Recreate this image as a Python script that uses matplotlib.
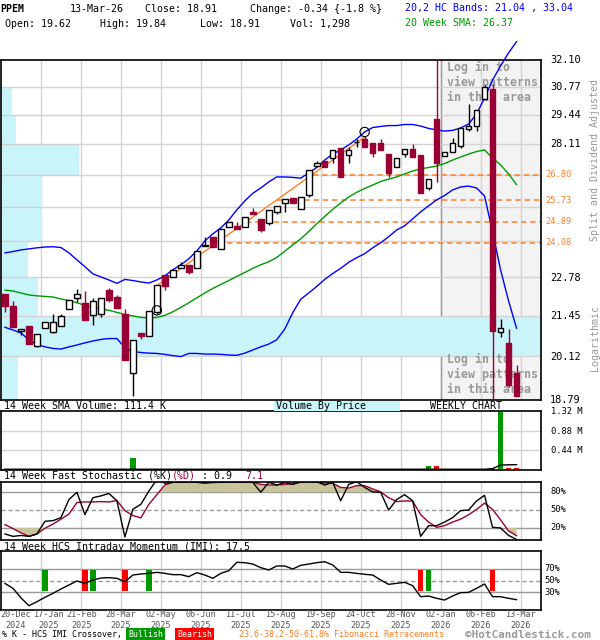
import numpy as np
import matplotlib.pyplot as plt
from matplotlib.patches import Rectangle
from matplotlib.ticker import NullLocator
from matplotlib.transforms import blended_transform_factory as blend

plt.rcParams['font.family'] = ['DejaVu Sans Mono']

# weekly candles, 20-Dec-2024 .. 13-Mar-2026
opens = [22.20, 21.80, 20.94, 21.12, 20.46, 21.04, 20.90, 21.11, 21.69, 22.06,
         21.90, 21.47, 21.51, 22.34, 22.10, 21.50, 19.60, 20.88, 20.77, 21.59,
         22.88, 22.82, 23.14, 23.25, 23.13, 23.95, 24.28, 23.83, 24.67, 24.72,
         24.69, 25.28, 24.99, 24.82, 25.26, 25.62, 25.82, 25.38, 25.95, 27.16,
         27.39, 27.49, 27.96, 27.64, 28.20, 28.34, 28.15, 28.15, 27.70, 27.13,
         27.67, 27.89, 27.64, 26.25, 29.25, 27.60, 27.79, 28.05, 28.79, 28.94,
         30.17, 30.66, 20.90, 20.55, 19.62]
highs = [22.20, 21.97, 21.00, 21.12, 20.85, 21.24, 21.53, 21.53, 22.00, 22.38,
         22.32, 22.08, 22.06, 22.41, 22.17, 21.68, 20.65, 20.88, 21.63, 22.53,
         22.88, 23.07, 23.37, 23.25, 23.76, 24.30, 24.28, 24.59, 24.86, 24.87,
         25.06, 25.43, 24.99, 25.35, 25.51, 25.78, 25.82, 25.88, 26.99, 27.38,
         27.39, 27.86, 27.96, 28.01, 28.33, 28.48, 28.15, 28.33, 27.70, 27.49,
         27.89, 28.11, 27.64, 26.60, 32.10, 27.79, 28.37, 28.86, 29.93, 29.67,
         30.86, 30.92, 21.35, 21.02, 19.84]
lows = [21.59, 21.09, 20.83, 20.53, 20.42, 21.04, 20.87, 21.11, 21.69, 21.94,
        21.30, 21.16, 21.40, 21.91, 21.73, 20.01, 18.92, 20.70, 20.77, 21.53,
        22.33, 22.82, 23.14, 22.92, 23.13, 23.95, 23.91, 23.83, 24.67, 24.59,
        24.69, 25.19, 24.49, 24.76, 25.18, 25.28, 25.62, 25.38, 25.88, 27.16,
        27.13, 27.28, 26.71, 27.31, 28.01, 28.01, 27.54, 27.86, 26.71, 27.13,
        27.56, 27.56, 26.02, 26.16, 26.50, 27.60, 27.79, 27.93, 28.70, 28.70,
        30.17, 18.79, 20.74, 19.19, 18.91]
closes = [21.80, 21.09, 21.00, 20.53, 20.85, 21.24, 21.24, 21.45, 22.00, 22.20,
          21.30, 21.97, 22.06, 21.98, 21.73, 20.01, 20.65, 20.77, 21.63, 22.53,
          22.50, 23.07, 23.24, 22.97, 23.76, 23.97, 23.91, 24.59, 24.86, 24.59,
          25.06, 25.19, 24.56, 25.35, 25.51, 25.78, 25.62, 25.88, 26.99, 27.31,
          27.13, 27.86, 26.71, 27.86, 28.20, 28.01, 27.74, 27.86, 26.88, 27.49,
          27.89, 27.56, 26.02, 26.60, 27.28, 27.79, 28.15, 28.86, 28.93, 29.67,
          30.74, 20.96, 21.04, 19.25, 18.91]

bb_upper = [23.69, 23.74, 23.80, 23.84, 23.88, 23.91, 23.92, 23.89, 23.69, 23.43,
            23.18, 22.92, 22.81, 22.70, 22.58, 22.72, 22.68, 22.63, 22.59, 22.70,
            22.85, 23.07, 23.25, 23.47, 23.76, 24.14, 24.41, 24.64, 24.95, 25.35,
            25.71, 26.02, 26.24, 26.49, 26.70, 26.70, 26.68, 26.65, 26.87, 27.10,
            27.42, 27.68, 27.86, 28.08, 28.34, 28.66, 28.86, 28.91, 28.95, 28.95,
            29.00, 29.00, 28.93, 28.82, 28.75, 28.70, 28.73, 28.84, 29.02, 29.48,
            30.24, 31.10, 31.80, 32.46, 33.04]
bb_lower = [21.07, 20.98, 20.88, 20.66, 20.51, 20.43, 20.38, 20.36, 20.43, 20.49,
            20.56, 20.62, 20.67, 20.70, 20.70, 20.41, 20.28, 20.25, 20.23, 20.22,
            20.19, 20.15, 20.12, 20.22, 20.22, 20.20, 20.20, 20.19, 20.17, 20.16,
            20.23, 20.33, 20.43, 20.52, 20.66, 21.01, 21.56, 22.02, 22.24, 22.47,
            22.72, 22.93, 23.12, 23.34, 23.51, 23.66, 23.88, 24.07, 24.30, 24.56,
            24.72, 24.99, 25.27, 25.51, 25.75, 25.93, 26.16, 26.28, 26.32, 26.24,
            25.91, 24.49, 23.07, 21.97, 21.04]
sma20 = [22.34, 22.31, 22.24, 22.17, 22.14, 22.12, 22.10, 22.03, 21.98, 21.90,
         21.81, 21.74, 21.69, 21.64, 21.57, 21.50, 21.45, 21.40, 21.38, 21.40,
         21.47, 21.59, 21.74, 21.90, 22.07, 22.24, 22.40, 22.54, 22.68, 22.83,
         22.97, 23.12, 23.25, 23.36, 23.52, 23.75, 23.99, 24.22, 24.50, 24.80,
         25.09, 25.37, 25.63, 25.87, 26.06, 26.22, 26.36, 26.51, 26.61, 26.70,
         26.83, 26.95, 27.04, 27.10, 27.16, 27.27, 27.42, 27.55, 27.68, 27.79,
         27.86, 27.51, 27.21, 26.83, 26.38]

# volume (millions) and its 14 week average
volume = [0.012] * 8 + [0] * 8 + [0.27] + [0.012] * 13 + [0] * 23 + \
         [0.07, 0.09, 0, 0, 0, 0, 0, 0, 0.012, 1.32, 0.045, 0.025]
vol_sma = [0.006] * 61 + [0.02, 0.10, 0.108, 0.111]

stoch_k = [10, 6, 7.5, 6, 10, 31, 32, 37, 67, 79, 42, 70, 73, 77, 65, 5, 51, 59, 81, 100,
           94, 95.5, 95.5, 96.5, 95.5, 94, 95.5, 95.5, 96.5, 95.5, 97.6, 95.5, 79, 95.5, 91,
           95, 92, 96.5, 97.6, 96.5, 91, 95.5, 65, 92, 96.5, 87, 79.6, 79, 49.6, 67,
           75, 65, 6, 23.7, 23.7, 29.7, 37, 48.6, 49.6, 64.6, 74, 21, 20, 7.6, 0.9]
stoch_d = [25.5, 18.9, 11.9, 5.9, 10, 19.5, 26.4, 34.5, 43, 62, 63, 63, 63.6, 63, 65.4,
           48.6, 40.5, 36.7, 59, 75, 91, 95.5, 95.5, 95.5, 95.5, 95.5, 95, 95.5, 95.5, 95.5,
           95.5, 95.5, 92, 91, 91, 92, 93, 95.5, 96.5, 95.5, 94.4, 94, 87, 86, 90,
           90, 84.6, 79.6, 70, 63.6, 64.6, 64.6, 42, 29.7, 21, 23.7, 29.7, 34.5, 41.6, 50.7,
           61, 50.7, 33.5, 15, 7.1]

imi = [45, 36.7, 20.6, 7.3, 14.1, 21.5, 28.2, 35.6, 42.4, 49.2, 45.2, 50.8, 54.2, 54.8, 53.7,
       48, 59.3, 61, 62.1, 63.8, 62.1, 59.9, 59.9, 56.5, 63.3, 59.3, 53.7, 62.1, 66.6, 80.8,
       80.2, 77.9, 71.8, 67.8, 74.6, 74.6, 69.5, 75.7, 77.9, 80.2, 81.9, 76.3, 63.8, 63.8, 62.1,
       60.5, 59.3, 50.8, 43.5, 45.2, 46.9, 41.2, 22.6, 23.7, 19.8, 16.9, 23.7, 29.4, 29.9, 36.7,
       44.1, 22.6, 22.6, 19.8, 17.5]
bullish_weeks = [5, 11, 18, 53]
bearish_weeks = [10, 15, 52, 61]

# volume by price (share of the largest bin), bins between the price grid levels
vbp_edges = [32.10, 30.77, 29.44, 28.11, 26.78, 25.45, 24.12, 22.79, 21.46, 20.13, 18.79]
vbp = [0.002, 0.02, 0.028, 0.145, 0.076, 0.076, 0.05, 0.069, 1.0, 0.031]

price_labels = [32.10, 30.77, 29.44, 28.11, 22.78, 21.45, 20.12, 18.79]
fib_levels = [26.80, 25.73, 24.89, 24.08]
fib_start = [38.5, 34.0, 30.2, 26.7]
trend = ([19, 45], [22.50, 28.43])
pattern_marks = ([19, 45], [21.64, 28.66])

date_labels = ['20-Dec\n2024', '17-Jan\n2025', '21-Feb\n2025', '28-Mar\n2025', '02-May\n2025',
               '06-Jun\n2025', '11-Jul\n2025', '15-Aug\n2025', '19-Sep\n2025', '24-Oct\n2025',
               '28-Nov\n2025', '02-Jan\n2026', '06-Feb\n2026', '13-Mar\n2026']
label_weeks = [0, 4, 9, 14, 19, 24, 29, 34, 39, 44, 49, 54, 59, 64]

W, H = 600, 640
RED = '#990033'
ORANGE = '#ff7f27'
GRID = '#d3d3d3'
CYAN = '#c8f4fa'

o, h, l, c = map(np.array, (opens, highs, lows, closes))
x = np.arange(len(o))
up = c >= o
grid_x = [w + 0.5 for w in label_weeks[1:]]

fig = plt.figure(figsize=(6, 6.4), dpi=100)


def axes_px(top, bottom, left=1, right=540.5):
    a = fig.add_axes([left / W, 1 - bottom / H, (right - left) / W, (bottom - top) / H])
    a.set_xlim(-0.5, 67)
    a.set_xticks([])
    a.set_yticks([])
    for s in a.spines.values():
        s.set_linewidth(1.2)
    for gx in grid_x:
        a.axvline(gx, color=GRID, lw=1, zorder=0.5)
    return a


def ftext(px, py, s, **kw):
    kw.setdefault('va', 'center')
    kw.setdefault('fontsize', 7.2)
    return fig.text(px / W, 1 - py / H, s, **kw)


# ---- header ----
ftext(0, 9, 'PPEM', fontweight='bold')
ftext(70, 9, '13-Mar-26')
ftext(145, 9, 'Close: 18.91')
ftext(250, 9, 'Change: -0.34 {-1.8 %}')
ftext(405, 8, '20,2 HC Bands: 21.04 , 33.04', color='#0000ff')
ftext(5, 24, 'Open: 19.62')
ftext(100, 24, 'High: 19.84')
ftext(200, 24, 'Low: 18.91')
ftext(290, 24, 'Vol: 1,298')
ftext(405, 23, '20 Week SMA: 26.37', color='#009900')

# ---- main price chart ----
ax = axes_px(60, 400)
ax.set_yscale('log')
ax.set_ylim(vbp_edges[-1], vbp_edges[0])
ax.yaxis.set_major_locator(NullLocator())
ax.yaxis.set_minor_locator(NullLocator())
ax.axvspan(54.5, 67, color='#f3f3f3', lw=0, zorder=0)
ax.axvline(54.5, color='#999999', lw=1, zorder=0.6)
bt = blend(ax.transAxes, ax.transData)
for top, bot, share in zip(vbp_edges[:-1], vbp_edges[1:], vbp):
    ax.add_patch(Rectangle((0, bot), share, top - bot, transform=bt,
                           facecolor=CYAN, lw=0, zorder=1))
for lvl in vbp_edges[1:-1]:
    ax.axhline(lvl, color=GRID, lw=1, zorder=1.5)

ft = blend(ax.transData, fig.transFigure)
for i, line in enumerate(['Log in to', 'view patterns', 'in this area']):
    for y0 in (67.3, 359.3):
        ax.text(55.25, 1 - (y0 + 15 * i) / H, line, transform=ft, fontsize=8.4,
                fontweight='bold', color='#999999', va='center', zorder=2)

for lvl, st in zip(fib_levels, fib_start):
    ax.hlines(lvl, st, 67, colors=ORANGE, linestyles=(0, (3.5, 2.5)), lw=1.1, zorder=2.5)
ax.plot(*trend, color=ORANGE, lw=1, zorder=2.6)
ax.plot(x, sma20, color='#009900', lw=1, zorder=2.7)
ax.plot(x, bb_lower, color='#0000ff', lw=1, zorder=2.7)
ax.plot(x, bb_upper, color='#0000ff', lw=1, zorder=2.7, clip_on=False)

ax.vlines(x, l, h, colors=np.where(up, 'black', RED), lw=1, zorder=3)
ax.bar(x, np.abs(c - o), bottom=np.minimum(o, c), width=0.7,
       color=np.where(up, 'white', RED), edgecolor=np.where(up, 'black', RED),
       lw=1, zorder=4)
ax.scatter(*pattern_marks, s=45, facecolors='none', edgecolors='black', lw=0.8, zorder=5)

for p in price_labels:
    ax.text(1.0176, p, f'{p:.2f}', transform=bt, fontsize=7.4, va='center', clip_on=False)
for p in fib_levels:
    ax.text(1.008, p, f'{p:.2f}', transform=bt, fontsize=6.3, va='center',
            color=ORANGE, clip_on=False)
ftext(595, 160, 'Split and Dividend Adjusted', rotation=90, ha='center', color='#999999')
ftext(595, 338, 'Logarithmic', rotation=90, ha='center', color='#999999')

# ---- volume ----
ftext(4, 406, '14 Week SMA Volume: 111.4 K')
fig.patches.append(Rectangle((274 / W, 1 - 411 / H), 126 / W, 10.5 / H,
                             transform=fig.transFigure, facecolor=CYAN, lw=0))
ftext(276, 406, 'Volume By Price')
ftext(430, 406, 'WEEKLY CHART')
av = axes_px(411, 469.5)
av.set_ylim(0, 1.34)
for lvl in (0.44, 0.88):
    av.axhline(lvl, color=GRID, lw=1, zorder=0.5)
av.bar(x, volume, width=0.7, color=np.where(up, '#009900', '#ff0000'), zorder=2)
av.plot(x, vol_sma, color='black', lw=1, zorder=3)
for v in (1.32, 0.88, 0.44):
    av.text(1.019, v, f'{v:.2f} M', transform=blend(av.transAxes, av.transData),
            fontsize=6.3, va='center', clip_on=False)

# ---- fast stochastic ----
ftext(4, 476, '14 Week Fast Stochastic (%K)')
ftext(172, 476, '(%D)', color=RED)
ftext(202, 476, ': 0.9')
ftext(245, 476, '7.1', color=RED)
ast = axes_px(482, 540)
ast.set_ylim(0, 96)
ast.axhline(80, color='#999999', lw=1, zorder=0.6)
ast.axhline(20, color='#999999', lw=1, zorder=0.6)
ast.axhline(50, color='#999999', lw=1, ls=(0, (3, 2)), zorder=0.6)
kd = np.array(stoch_d)
ast.fill_between(x, kd, 80, where=kd > 80, interpolate=True, color='#c8c49a', lw=0, zorder=1)
ast.fill_between(x, kd, 20, where=kd < 20, interpolate=True, color='#c8c49a', lw=0, zorder=1)
ast.plot(x, stoch_d, color=RED, lw=1, zorder=2)
ast.plot(x, stoch_k, color='black', lw=1, zorder=3)
for v in (80, 50, 20):
    ast.text(1.018, v, f'{v}%', transform=blend(ast.transAxes, ast.transData),
             fontsize=6.3, va='center', clip_on=False)

# ---- intraday momentum ----
ftext(4, 547, '14 Week HCS Intraday Momentum (IMI): 17.5')
ai = axes_px(551, 610)
ai.set_ylim(0, 100)
ai.axhline(70, color='#999999', lw=1, zorder=0.6)
ai.axhline(30, color='#999999', lw=1, zorder=0.6)
ai.axhline(50, color='#999999', lw=1, ls=(0, (3, 2)), zorder=0.6)
ai.bar(bullish_weeks, 35, bottom=33, width=0.7, color='#009900', zorder=2)
ai.bar(bearish_weeks, 35, bottom=33, width=0.7, color='#ff0000', zorder=2)
ai.plot(x, imi, color='black', lw=1, zorder=3)
for v in (70, 50, 30):
    ai.text(1.008, v, f'{v}%', transform=blend(ai.transAxes, ai.transData),
            fontsize=6.3, va='center', clip_on=False)

# date labels under the gridlines, pushed right where they would collide
prev_right = -10
for k, (wk, lab) in enumerate(zip(label_weeks, date_labels)):
    d, yr = lab.split('\n')
    cx = ai.transData.transform((wk + 0.5, 0))[0]
    left = max(cx - 15.5, prev_right + 2, 0)
    prev_right = left + 31
    for s, py in ((d, 614.5), (yr, 625.5)):
        ftext(left + 15.5, py, s, ha='center', fontsize=6.1, color='#555555')

# ---- legend line ----
ftext(2, 634.5, '% K - HCS IMI Crossover,', fontsize=6.0)
ftext(128, 634.5, 'Bullish', fontsize=6.0, color='white',
      bbox=dict(facecolor='#009900', edgecolor='none', pad=1.4))
ftext(177, 634.5, 'Bearish', fontsize=6.0, color='white',
      bbox=dict(facecolor='#ff0000', edgecolor='none', pad=1.4))
ftext(239, 634.5, '23.6-38.2-50-61.8% Fibonacci Retracements', fontsize=6.0, color=ORANGE)
ftext(465, 634.5, '©HotCandlestick.com', fontsize=7.9, fontweight='bold', color='#999999')

fig.savefig('out.png', dpi=100)
